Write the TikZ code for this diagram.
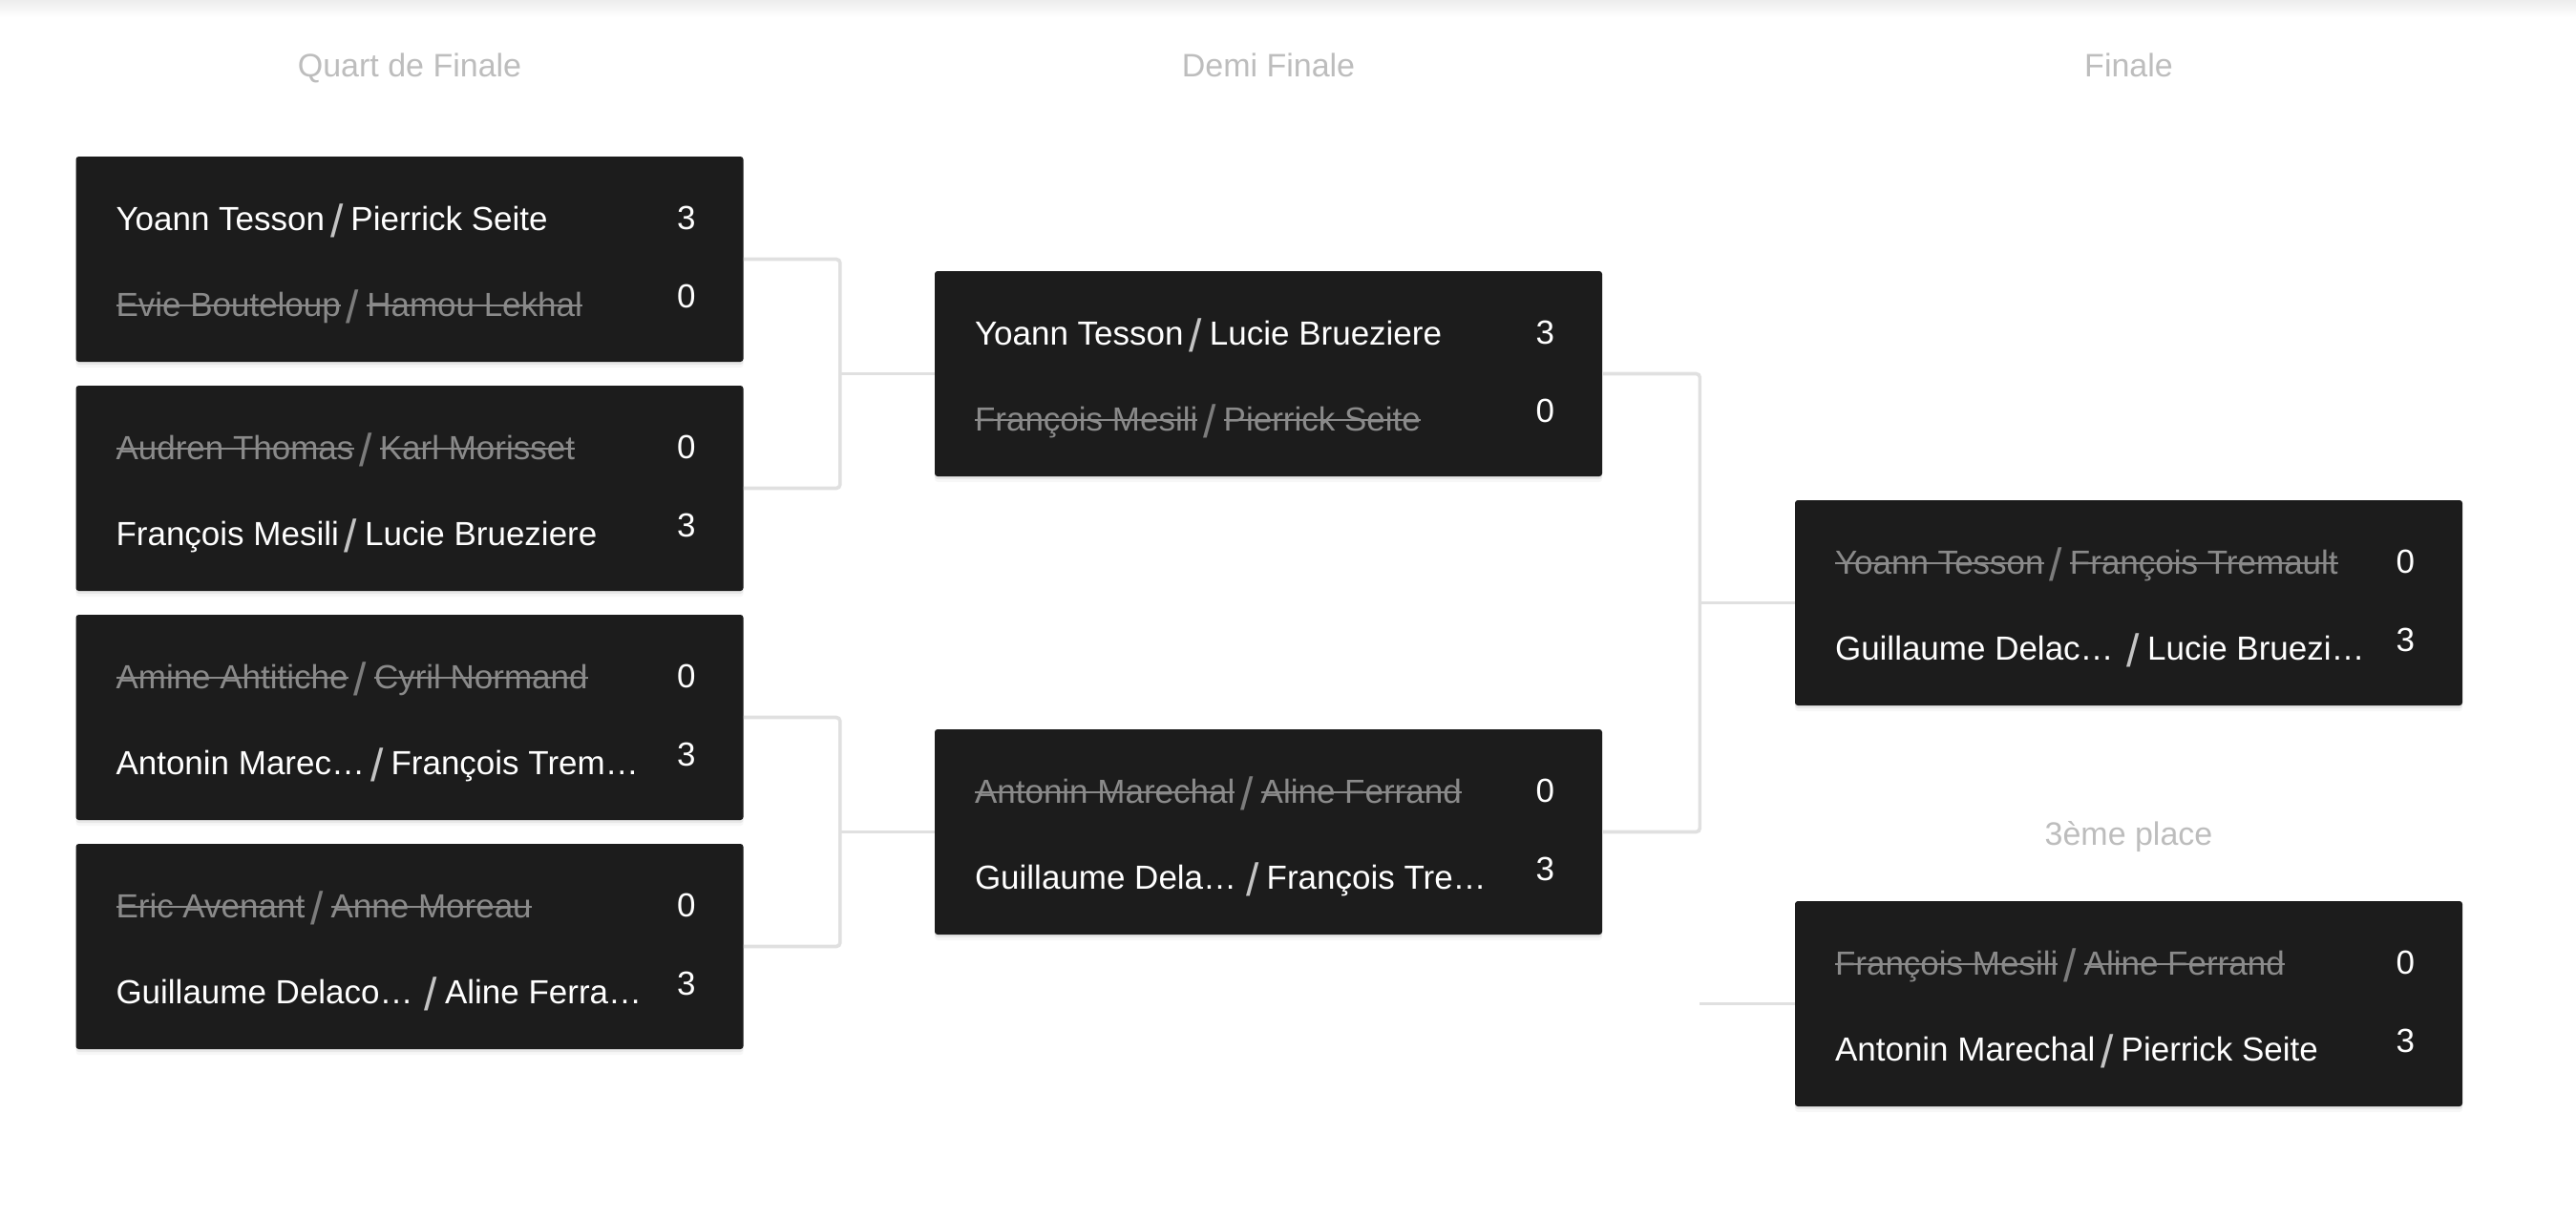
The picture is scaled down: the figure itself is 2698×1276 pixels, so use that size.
\documentclass[tikz,border=0pt]{standalone}
\usepackage{fontspec}
\setmainfont{Liberation Sans}
\usetikzlibrary{shadows}
\definecolor{boxbg}{HTML}{1C1C1C}
\definecolor{lose}{HTML}{8A8A8A}
\definecolor{head}{HTML}{BDBDBD}
\definecolor{conn}{HTML}{E0E0E0}
\definecolor{slw}{HTML}{C4C4C4}
\definecolor{sll}{HTML}{7C7C7C}
\newsavebox\strkbox
\newcommand\strk[1]{\sbox\strkbox{#1}\rlap{\rule[0.29em]{\wd\strkbox}{1.4pt}}\usebox\strkbox}
\newcommand\slsh[1]{\hspace{3pt}{\color{#1}\raisebox{-3.5pt}{\fontsize{24}{24}\selectfont /}}\hspace{4pt}}
\newcommand\wrow[2]{{\color{white}#1\slsh{slw}#2}}
\newcommand\lrow[2]{{\color{lose}\strk{#1}\slsh{sll}\strk{#2}}}
\tikzset{
  match/.style={rectangle, fill=boxbg, minimum width=349.5pt, minimum height=107.5pt, inner sep=0pt, rounded corners=1.5pt,
    drop shadow={shadow xshift=0pt, shadow yshift=-1.5pt, opacity=0.12},
    drop shadow={shadow xshift=0pt, shadow yshift=-3pt, opacity=0.06}},
  player/.style={anchor=base west, inner sep=0pt, font=\fontsize{17.5}{20}\selectfont},
  score/.style={anchor=base east, inner sep=0pt, text=white, font=\fontsize{17.5}{20}\selectfont},
  roundlabel/.style={anchor=base, inner sep=0pt, text=head, font=\fontsize{17}{20}\selectfont},
  link/.style={draw=conn, line width=1.8pt, rounded corners=2pt},
}
\newcommand\matchbox[7]{%
  \node[match] (#1) at (#2,#3) {};
  \node[player] (#1a) at ([xshift=21pt,yshift=-39pt]#1.north west) {#4};
  \node[score] (#1as) at ([xshift=-25pt,yshift=-38.5pt]#1.north east) {#5};
  \node[player] (#1b) at ([xshift=21pt,yshift=-84pt]#1.north west) {#6};
  \node[score] (#1bs) at ([xshift=-25pt,yshift=-79.5pt]#1.north east) {#7};
}
\begin{document}
\begin{tikzpicture}[x=0.5pt,y=-0.5pt]
\fill[white] (0,0) rectangle (2698,1276);
\useasboundingbox (0,0) rectangle (2698,1276);
\shade[top color=black!7, bottom color=white] (0,0) rectangle (2698,18);

\node[roundlabel] (hq) at (429,80) {Quart de Finale};
\node[roundlabel] (hd) at (1328.5,80) {Demi Finale};
\node[roundlabel] (hf) at (2229.5,80) {Finale};
\node[roundlabel] (ht) at (2229.5,885) {3ème place};

\matchbox{q1}{429}{271.5}{\wrow{Yoann Tesson}{Pierrick Seite}}{3}{\lrow{Evie Bouteloup}{Hamou Lekhal}}{0}
\matchbox{q2}{429}{511.5}{\lrow{Audren Thomas}{Karl Morisset}}{0}{\wrow{François Mesili}{Lucie Brueziere}}{3}
\matchbox{q3}{429}{751.5}{\lrow{Amine Ahtitiche}{Cyril Normand}}{0}{\wrow{Antonin Marec…}{François Trem…}}{3}
\matchbox{q4}{429}{991.5}{\lrow{Eric Avenant}{Anne Moreau}}{0}{\wrow{Guillaume Delaco…\hspace{3pt}}{Aline Ferra…}}{3}
\matchbox{s1}{1328.5}{391.5}{\wrow{Yoann Tesson}{Lucie Brueziere}}{3}{\lrow{François Mesili}{Pierrick Seite}}{0}
\matchbox{s2}{1328.5}{871.5}{\lrow{Antonin Marechal}{Aline Ferrand}}{0}{\wrow{Guillaume Dela…\hspace{2pt}}{François Tre…}}{3}
\matchbox{f}{2229.5}{631.5}{\lrow{Yoann Tesson}{François Tremault}}{0}{\wrow{Guillaume Delac…\hspace{4pt}}{Lucie Bruezi…}}{3}
\matchbox{t}{2229.5}{1051.5}{\lrow{François Mesili}{Aline Ferrand}}{0}{\wrow{Antonin Marechal}{Pierrick Seite}}{3}

\draw[link] (q1.east) -- ++(101,0) |- (q2.east);
\draw[link] (q3.east) -- ++(101,0) |- (q4.east);
\draw[link] (s1.west) -- ++(-99,0);
\draw[link] (s2.west) -- ++(-99,0);
\draw[link] (s1.east) -- ++(102,0) |- (s2.east);
\draw[link] (f.west) -- ++(-100,0);
\coordinate (tfree) at ([xshift=-50pt]t.west);
\draw[link] (t.west) -- (tfree);
\end{tikzpicture}
\end{document}
